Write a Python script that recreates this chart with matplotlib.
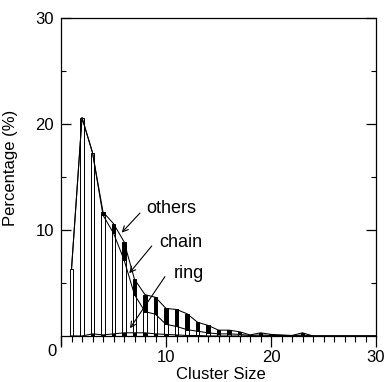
import numpy as np
import matplotlib
matplotlib.use("Agg")
import matplotlib.pyplot as plt

plt.rcParams['font.family'] = ['Liberation Sans', 'DejaVu Sans']

# cluster sizes and stacked percentages
sizes = list(range(1, 31))
ring = [0, 0, 0.2, 0.1, 0.2, 0.3, 0.3, 0.3, 0.2, 0.15, 0.1, 0.05, 0.05, 0, 0,
        0, 0, 0, 0, 0, 0, 0, 0, 0, 0, 0, 0, 0, 0, 0]
chain = [6.3, 20.6, 17.1, 11.3, 9.5, 6.9, 3.6, 2.0, 1.85, 0.95, 0.8, 0.55, 0.4, 0.3, 0.2,
         0.2, 0.15, 0.05, 0.1, 0.05, 0.05, 0, 0.1, 0, 0, 0, 0, 0, 0, 0]
others = [0, 0, 0, 0.3, 0.9, 1.7, 1.45, 1.6, 1.6, 1.5, 1.6, 1.5, 0.85, 0.7, 0.35,
          0.35, 0.25, 0.05, 0.2, 0.1, 0.05, 0.05, 0.2, 0, 0, 0, 0, 0, 0, 0]

x = np.array(sizes)
r = np.array(ring)
c = np.array(chain)
o = np.array(others)

fig = plt.figure(figsize=(3.89, 3.82), dpi=100)
ax = fig.add_axes([61/389, 1-345/382, 315/389, 327/382])

w = 0.38
# skip empty segments so they don't leave outline stubs
m = r > 0
ax.bar(x[m], r[m], width=w, color='black', edgecolor='black', lw=0.7, zorder=2)
m = c > 0
ax.bar(x[m], c[m], width=w, bottom=r[m], color='white', edgecolor='black', lw=0.7, zorder=2)
m = o > 0
ax.bar(x[m], o[m], width=w, bottom=(r+c)[m], color='black', edgecolor='black', lw=0.7, zorder=2)

ax.plot(x, r, color='black', lw=0.75, zorder=3)
ax.plot(x, r+c, color='black', lw=0.75, zorder=3)
ax.plot(x, r+c+o, color='black', lw=0.75, zorder=3)

fs = 12
arr = dict(arrowstyle='->', lw=0.8, color='black', shrinkA=0, shrinkB=0)
ax.annotate('', xy=(5.78, 9.75), xytext=(7.52, 11.6), arrowprops=arr)
ax.annotate('', xy=(6.5, 5.92), xytext=(8.64, 8.49), arrowprops=arr)
ax.annotate('', xy=(6.57, 0.73), xytext=(9.9, 5.6), arrowprops=arr)
ax.text(8.1, 11.6, 'others', fontsize=13, ha='left', va='baseline')
ax.text(9.36, 8.4, 'chain', fontsize=13, ha='left', va='baseline')
ax.text(10.76, 5.47, 'ring', fontsize=13, ha='left', va='baseline')

ax.set_xlim(0, 30)
ax.set_ylim(-0.85, 30)
ax.spines['bottom'].set_position(('data', 0))
ax.spines['right'].set_bounds(0, 30)
for s in ax.spines.values():
    s.set_linewidth(0.9)

ax.set_xticks([0, 10, 20, 30])
ax.set_xticklabels(['', '10', '20', '30'])
ax.set_xticks(np.arange(0, 31, 1), minor=True)
ax.set_yticks([10, 20, 30])
ax.set_yticks([5, 15, 25], minor=True)
ax.tick_params(axis='x', which='both', direction='out', top=False, labelsize=fs, pad=2)
ax.tick_params(axis='x', which='major', length=8, width=0.9)
ax.tick_params(axis='x', which='minor', length=4, width=0.8)
ax.tick_params(axis='y', which='both', direction='in', left=True, right=True, labelsize=fs, pad=5)
ax.tick_params(axis='y', which='major', length=7, width=0.9)
ax.tick_params(axis='y', which='minor', length=3.5, width=0.8)

fig.text(51.5/389, 1-351/382, '0', fontsize=fs, ha='center', va='center')

ax.set_xlabel('Cluster Size', fontsize=fs)
ax.set_ylabel('Percentage (%)', fontsize=fs)
ax.xaxis.set_label_coords(0.506, -0.067)
ax.yaxis.set_label_coords(-0.138, 0.541)

fig.savefig('out.png', dpi=100)
